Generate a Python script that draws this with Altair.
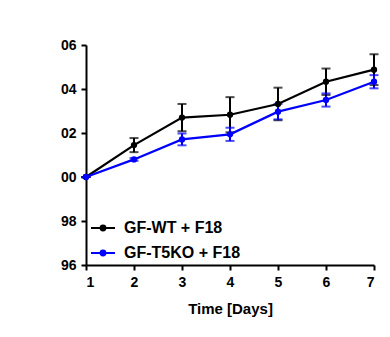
import altair as alt
import pandas as pd

days = [1, 2, 3, 4, 5, 6, 7]
groups = ["GF-WT + F18", "GF-T5KO + F18"]
colors = ["#000000", "#0000ff"]
wt_mean = [100.0, 101.45, 102.7, 102.83, 103.32, 104.33, 104.88]
wt_err = [0.0, 0.32, 0.62, 0.8, 0.74, 0.6, 0.7]
ko_mean = [100.0, 100.8, 101.71, 101.94, 102.97, 103.5, 104.33]
ko_err = [0.0, 0.06, 0.27, 0.3, 0.35, 0.3, 0.3]
y_ticks = [96, 98, 100, 102, 104, 106]

rows = []
for order, (g, m, e) in enumerate(((groups[0], wt_mean, wt_err), (groups[1], ko_mean, ko_err))):
    for d, mm, ee in zip(days, m, e):
        rows.append({"day": d, "group": g, "order": order, "mean": mm, "lo": mm - ee, "hi": mm + ee})
df = pd.DataFrame(rows)

FONT = "Liberation Sans"

x = alt.X("day:Q", scale=alt.Scale(domain=[1, 7], nice=False),
          axis=alt.Axis(values=days, title="Time [Days]", format="d"))
y_scale = alt.Scale(domain=[96, 106], nice=False, zero=False)
y = alt.Y("mean:Q", scale=y_scale,
          axis=alt.Axis(values=y_ticks, title=None,
                        labelExpr="substring(datum.label, length(datum.label) - 2)"))
color_scale = alt.Scale(domain=groups, range=colors)

path = "M-1,0L1,0M-0.2,0A0.2,0.2,0,1,1,0.2,0A0.2,0.2,0,1,1,-0.2,0Z"
legend = alt.Legend(title=None, orient="none", legendX=4, legendY=170,
                    symbolType=path, symbolSize=576, symbolStrokeWidth=2,
                    symbolOpacity=1,
                    labelFont=FONT, labelFontSize=16, labelFontWeight="bold",
                    labelColor="#000000", labelOffset=8, rowPadding=4)

base = alt.Chart(df)
col = alt.Color("group:N", scale=color_scale, legend=legend)

err_rule = base.mark_rule(strokeWidth=2).encode(
    x=x, y=alt.Y("lo:Q", scale=y_scale), y2="hi:Q", color=col)
cap_lo = base.mark_tick(orient="horizontal", size=9, thickness=2).encode(
    x=x, y=alt.Y("lo:Q", scale=y_scale), color=col)
cap_hi = base.mark_tick(orient="horizontal", size=9, thickness=2).encode(
    x=x, y=alt.Y("hi:Q", scale=y_scale), color=col)
lines = base.mark_line(strokeWidth=2.2).encode(
    x=x, y=y, color=col, order="day:Q")
points = base.mark_circle(size=40, opacity=1).encode(
    x=x, y=y, color=col)

chart = alt.layer(err_rule, cap_lo, cap_hi, lines, points).properties(
    width=288, height=220,
    background="white",
    autosize=alt.AutoSizeParams(type="none"),
    padding={"left": 86, "top": 45, "right": 16, "bottom": 72},
).configure_view(stroke=None).configure_axis(
    grid=False, domainColor="#000000", domainWidth=2, tickColor="#000000",
    tickWidth=2, tickSize=5, labelFont=FONT, labelFontSize=14,
    labelFontWeight="bold", labelColor="#000000", labelPadding=5,
    titleFont=FONT, titleFontSize=15, titleFontWeight="bold",
    titleColor="#000000", titlePadding=12,
)

chart.save("out.html", embed_options={"renderer": "svg", "actions": False})
